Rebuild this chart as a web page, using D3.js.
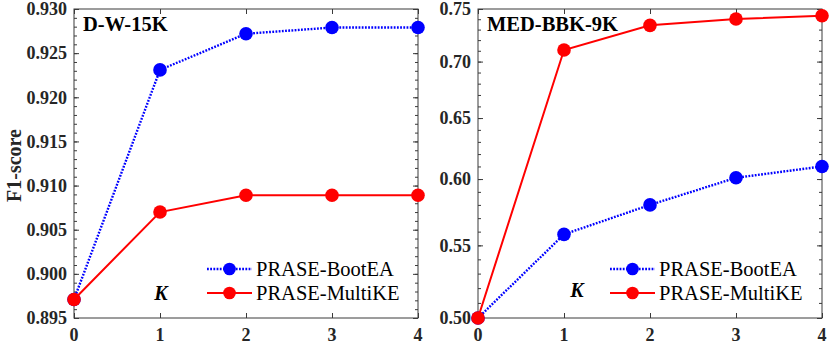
<!DOCTYPE html>
<html>
<head>
<meta charset="utf-8">
<script src="https://cdn.jsdelivr.net/npm/d3@7"></script>
<style>
  html, body { margin: 0; padding: 0; background: #fff; }
  svg { display: block; }
</style>
</head>
<body>
<script>
// ---------- data ----------
const kValues = [0, 1, 2, 3, 4];
const dwBootEA  = [0.8971, 0.9231, 0.9272, 0.9279, 0.9279];
const dwMultiKE = [0.8971, 0.9070, 0.9089, 0.9089, 0.9089];
const medBootEA  = [0.500, 0.558, 0.580, 0.601, 0.610];
const medMultiKE = [0.500, 0.7107, 0.7341, 0.7402, 0.7434];
const dwTicks  = [0.895, 0.900, 0.905, 0.910, 0.915, 0.920, 0.925, 0.930];
const medTicks = [0.50, 0.55, 0.60, 0.65, 0.70, 0.75];
const seriesNames = ["PRASE-BootEA", "PRASE-MultiKE"];
const panelTitles = ["D-W-15K", "MED-BBK-9K"];

const W = 831, H = 344;
const FONT = "'Liberation Serif', 'Times New Roman', 'DejaVu Serif', serif";
const svg = d3.select("body").append("svg").attr("width", W).attr("height", H)
  .attr("font-family", FONT);

const axisColor = "#3a3a3a";
const blue = "#0000ff", red = "#ff0000";

function panel(cfg) {
  const g = svg.append("g");
  const x = d3.scaleLinear().domain([0, 4]).range([cfg.x0, cfg.x1]);
  const y = cfg.log
    ? d3.scaleLog().domain(cfg.ydom).range([318, 9])
    : d3.scaleLinear().domain(cfg.ydom).range([318, 9]);

  const minor = d3.range(Math.round(cfg.ydom[0] / cfg.minorStep), Math.round(cfg.ydom[1] / cfg.minorStep) + 1)
    .map(i => +(i * cfg.minorStep).toFixed(4));

  const left = g.append("g").attr("transform", `translate(${cfg.x0},0)`)
    .call(d3.axisRight(y).tickValues(minor).tickSize(3).tickFormat(""));
  const right = g.append("g").attr("transform", `translate(${cfg.x1},0)`)
    .call(d3.axisLeft(y).tickValues(minor).tickSize(3).tickFormat(""));
  const leftMaj = g.append("g").attr("transform", `translate(${cfg.x0},0)`)
    .call(d3.axisRight(y).tickValues(cfg.ticks).tickSize(5).tickFormat(""));
  const rightMaj = g.append("g").attr("transform", `translate(${cfg.x1},0)`)
    .call(d3.axisLeft(y).tickValues(cfg.ticks).tickSize(5).tickFormat(""));
  const bottom = g.append("g").attr("transform", `translate(0,318)`)
    .call(d3.axisTop(x).tickValues(kValues).tickSize(5).tickFormat(""));
  const top = g.append("g").attr("transform", `translate(0,9)`)
    .call(d3.axisBottom(x).tickValues(kValues).tickSize(5).tickFormat(""));
  [left, right, leftMaj, rightMaj, bottom, top].forEach(a => {
    a.select(".domain").remove();
    a.selectAll("line").attr("stroke", axisColor).attr("stroke-width", 1);
  });

  g.append("rect").attr("x", cfg.x0).attr("y", 9)
    .attr("width", cfg.x1 - cfg.x0).attr("height", 309)
    .attr("fill", "none").attr("stroke", axisColor).attr("stroke-width", 1);

  g.selectAll(".yl").data(cfg.ticks).enter().append("text")
    .attr("font-family", FONT)
    .attr("x", cfg.x0 - 7).attr("y", d => y(d)).attr("dy", "0.35em")
    .attr("text-anchor", "end").attr("font-weight", "bold").attr("font-size", 18)
    .attr("fill", "#262626")
    .text(d => d3.format(cfg.fmt)(d));
  g.selectAll(".xl").data(kValues).enter().append("text")
    .attr("font-family", FONT)
    .attr("x", d => x(d)).attr("y", 341)
    .attr("text-anchor", "middle").attr("font-weight", "bold").attr("font-size", 18)
    .attr("fill", "#262626")
    .text(d => d);

  const line = d3.line().x((d, i) => x(kValues[i])).y(d => y(d));
  g.append("path").datum(cfg.boot).attr("d", line)
    .attr("fill", "none").attr("stroke", blue).attr("stroke-width", 2.4)
    .attr("stroke-dasharray", "1.8,1.4");
  g.selectAll(".mb").data(cfg.boot).enter().append("circle")
    .attr("cx", (d, i) => x(kValues[i])).attr("cy", d => y(d)).attr("r", 6.8).attr("fill", blue);
  g.append("path").datum(cfg.multi).attr("d", line)
    .attr("fill", "none").attr("stroke", red).attr("stroke-width", 2);
  g.selectAll(".mm").data(cfg.multi).enter().append("circle")
    .attr("cx", (d, i) => x(kValues[i])).attr("cy", d => y(d)).attr("r", 6.8).attr("fill", red);

  g.append("text").attr("font-family", FONT).attr("x", cfg.x0 + 9).attr("y", 31)
    .attr("font-weight", "bold").attr("font-size", 20.5).attr("fill", "#000")
    .text(cfg.title);

  g.append("text").attr("font-family", FONT).attr("x", cfg.kx).attr("y", cfg.ky)
    .attr("text-anchor", "middle").attr("font-weight", "bold").attr("font-style", "italic")
    .attr("font-size", 20).attr("fill", "#000").text("K");

  const lg = g.append("g");
  const rows = [
    { name: seriesNames[0], color: blue, dash: "1.8,1.4", w: 2.4 },
    { name: seriesNames[1], color: red, dash: null, w: 2 }
  ];
  rows.forEach((r, i) => {
    const yy = 269 + i * 24;
    lg.append("line").attr("x1", cfg.lx).attr("x2", cfg.lx + 45)
      .attr("y1", yy).attr("y2", yy).attr("stroke", r.color).attr("stroke-width", r.w)
      .attr("stroke-dasharray", r.dash);
    lg.append("circle").attr("cx", cfg.lx + 22.5).attr("cy", yy).attr("r", 6.3).attr("fill", r.color);
    lg.append("text").attr("font-family", FONT).attr("x", cfg.lx + 49).attr("y", yy + 7)
      .attr("font-size", 20.5).attr("fill", "#000").text(r.name);
  });
}

panel({ x0: 74, x1: 418, ydom: [0.895, 0.930], log: false, ticks: dwTicks, minorStep: 0.001,
        fmt: ".3f", boot: dwBootEA, multi: dwMultiKE, title: panelTitles[0],
        kx: 161, ky: 300, lx: 207 });
panel({ x0: 478, x1: 822, ydom: [0.50, 0.75], log: true, ticks: medTicks, minorStep: 0.01,
        fmt: ".2f", boot: medBootEA, multi: medMultiKE, title: panelTitles[1],
        kx: 577, ky: 297, lx: 610 });

svg.append("text").attr("font-family", FONT)
  .attr("transform", "translate(20.5,165.5) rotate(-90)")
  .attr("text-anchor", "middle").attr("font-weight", "bold").attr("font-size", 20)
  .attr("fill", "#262626").text("F1-score");
</script>
</body>
</html>
